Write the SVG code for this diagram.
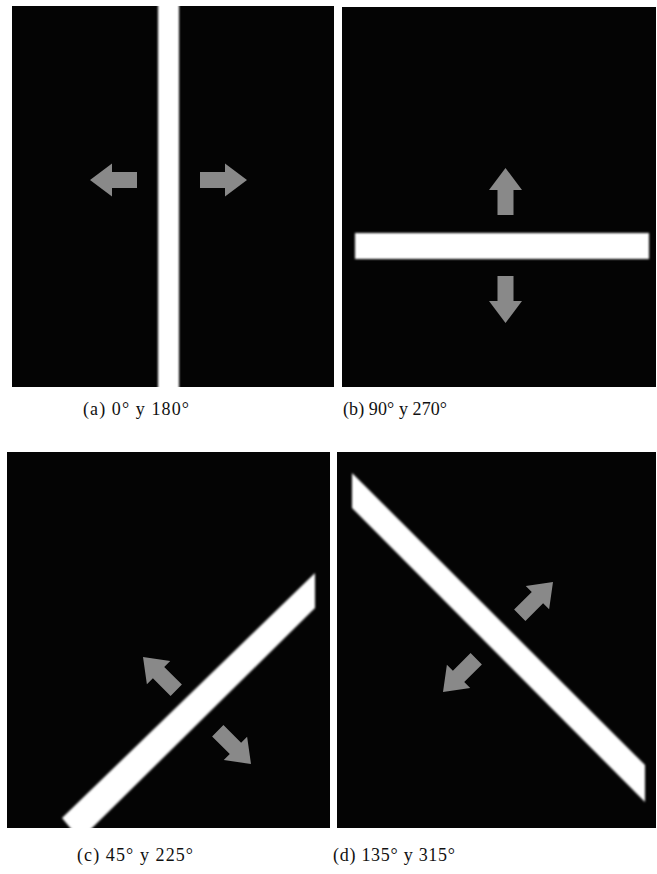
<svg xmlns="http://www.w3.org/2000/svg" xmlns:xlink="http://www.w3.org/1999/xlink" width="657" height="874" viewBox="0 0 657 874">
<style>
.bg{fill:#040404}
.bar{fill:#ffffff;filter:url(#soft)}
.arr{fill:#898989}
.cap{font-family:"Liberation Serif","Times New Roman",serif;font-size:18px;fill:#111;text-anchor:middle}
</style>
<defs>
<filter id="soft" x="-10%" y="-10%" width="120%" height="120%"><feGaussianBlur stdDeviation="0.8"/></filter>
<polygon id="arrow" points="0,0 -22,-16.5 -22,-8 -47,-8 -47,8 -22,8 -22,16.5"/>
<clipPath id="ca"><rect x="12" y="6" width="322" height="381"/></clipPath>
<clipPath id="cb"><rect x="342" y="7" width="314" height="380"/></clipPath>
<clipPath id="cc"><rect x="7" y="452" width="323" height="376"/></clipPath>
<clipPath id="cd"><rect x="337" y="452" width="319" height="376"/></clipPath>
</defs>
<rect width="657" height="874" fill="#ffffff"/>
<g id="panel-a">
<rect class="bg" x="12" y="6" width="322" height="381"/>
<g clip-path="url(#ca)"><rect class="bar" x="158" y="2" width="21" height="390"/></g>
<use class="arr" xlink:href="#arrow" transform="translate(90,180) rotate(180)"/>
<use class="arr" xlink:href="#arrow" transform="translate(247,180)"/>
<text class="cap" x="136" y="415" textLength="106">(a) 0° y 180°</text>
</g>
<g id="panel-b">
<rect class="bg" x="342" y="7" width="314" height="380"/>
<g clip-path="url(#cb)"><rect class="bar" x="355" y="233" width="294" height="26"/></g>
<use class="arr" xlink:href="#arrow" transform="translate(505.5,168) rotate(-90)"/>
<use class="arr" xlink:href="#arrow" transform="translate(505.5,323) rotate(90)"/>
<text class="cap" x="395" y="415" textLength="104">(b) 90° y 270°</text>
</g>
<g id="panel-c">
<rect class="bg" x="7" y="452" width="323" height="376"/>
<g clip-path="url(#cc)"><polygon class="bar" points="315,573 315,608 90,830 72,830 62,818"/></g>
<use class="arr" xlink:href="#arrow" transform="translate(143,657) rotate(-135)"/>
<use class="arr" xlink:href="#arrow" transform="translate(251,764) rotate(45)"/>
<text class="cap" x="135" y="861" textLength="116">(c) 45° y 225°</text>
</g>
<g id="panel-d">
<rect class="bg" x="337" y="452" width="319" height="376"/>
<g clip-path="url(#cd)"><polygon class="bar" points="352,473 645,765 645,802 352,508"/></g>
<use class="arr" xlink:href="#arrow" transform="translate(553,582) rotate(-45)"/>
<use class="arr" xlink:href="#arrow" transform="translate(443,692) rotate(135)"/>
<text class="cap" x="394" y="861" textLength="122">(d) 135° y 315°</text>
</g>
</svg>
